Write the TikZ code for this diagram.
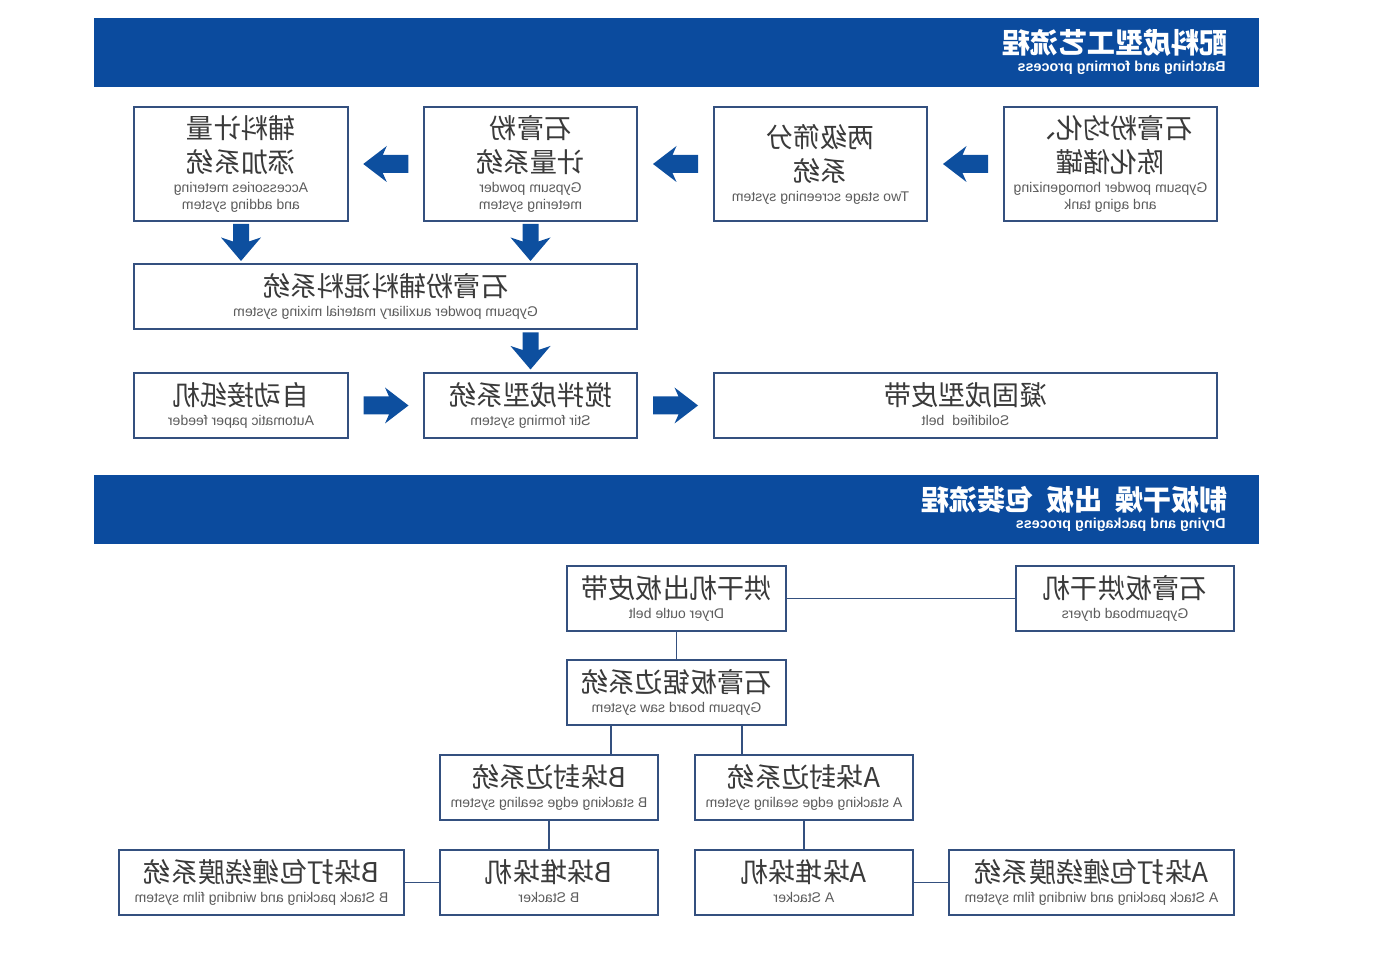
\documentclass[tikz,border=0pt]{standalone}
\usepackage{fontspec}
\usepackage{graphicx}
\setmainfont{Liberation Sans}
\newfontfamily\cjk{Noto Sans CJK SC}
\usetikzlibrary{calc}
\definecolor{banblue}{HTML}{0B4B9E}
\definecolor{arblue}{HTML}{0D4F9F}
\definecolor{edge}{HTML}{34507F}
\definecolor{zhgray}{HTML}{3A3A3A}
\definecolor{engray}{HTML}{5C5C5C}
% one line of Chinese / one line of English, with fixed struts
\newcommand\zh[2][15.5pt]{{\cjk\fontsize{15.5}{16}\selectfont\color{zhgray}\rule[-5.8pt]{0pt}{\dimexpr#1+5.8pt\relax}#2}}
\newcommand\en[1]{{\fontsize{8}{9}\selectfont\color{engray}\rule[-3.8pt]{0pt}{7.9pt}#1}}
% the reference prints every text mirrored
\newcommand\mir[1]{\reflectbox{\renewcommand\arraystretch{0}\begin{tabular}{@{}c@{}}#1\end{tabular}}}
\tikzset{
  proc/.style={draw=edge, line width=1pt, fill=white, inner sep=0pt},
  tall/.style={proc, minimum width=4.27cm, minimum height=2.28cm},
  row/.style={proc, minimum height=1.3cm},
  conn/.style={draw=edge, line width=1.1pt},
  harrow/.pic={\fill[arblue] (22.5,0) -- (-1,-18) -- (3,-9) -- (-22.5,-9) -- (-22.5,9) -- (3,9) -- (-1,18) -- cycle;},
  varrow/.pic={\fill[arblue] (0,18.5) -- (-20,-5) -- (-8,-1) -- (-8,-18.5) -- (8,-18.5) -- (8,-1) -- (20,-5) -- cycle;}
}
\begin{document}
\begin{tikzpicture}[x=0.02cm, y=-0.02cm]
\useasboundingbox (0,0) rectangle (1386,972);

% Batching and forming
\fill[banblue] (94,18) rectangle (1259,87);
\node[anchor=east, text=white, inner sep=0pt] (t1zh) at (1228,43) {\reflectbox{\cjk\bfseries\fontsize{16}{16}\selectfont 配料成型工艺流程}};
\node[anchor=east, text=white, inner sep=0pt] (t1en) at (1226,68) {\reflectbox{\bfseries\fontsize{8.2}{9}\selectfont Batching and forming process}};

\node[tall] (acc) at (241,164) {\mir{\zh{辅料计量}\\\zh[13.5pt]{添加系统}\\\en{Accessories metering}\\\en{and adding system}}};
\node[tall] (gpm) at (530.5,164) {\mir{\zh{石膏粉}\\\zh[13.5pt]{计量系统}\\\en{Gypsum powder}\\\en{metering system}}};
\node[tall] (tss) at (820.5,164) {\mir{\zh{两级筛分}\\\zh[13.5pt]{系统}\\\en{Two stage screening system}}};
\node[tall] (hom) at (1110.5,164) {\mir{\zh{石膏粉均化、}\\\zh[13.5pt]{陈化储罐}\\\en{Gypsum powder homogenizing}\\\en{and aging tank}}};
\node[row, minimum width=10.06cm] (mix) at (385.5,296.5) {\mir{\zh{石膏粉辅料混料系统}\\\en{Gypsum powder auxiliary material mixing system}}};
\node[row, minimum width=4.28cm] (paper) at (241,405.5) {\mir{\zh{自动接纸机}\\\en{Automatic paper feeder}}};
\node[row, minimum width=4.26cm] (stir) at (530.5,405.5) {\mir{\zh{搅拌成型系统}\\\en{Stir forming system}}};
\node[row, minimum width=10.06cm] (solid) at (965.5,405.5) {\mir{\zh{凝固成型皮带}\\\en{Solidified\ \ belt}}};

\pic[xscale=-1] at ($(acc.east)!.5!(gpm.west)$) {harrow};
\pic[xscale=-1] at ($(gpm.east)!.5!(tss.west)$) {harrow};
\pic[xscale=-1] at ($(tss.east)!.5!(hom.west)$) {harrow};
\pic at ($(acc.south)!.5!(acc.south |- mix.north)$) {varrow};
\pic at ($(gpm.south)!.5!(gpm.south |- mix.north)$) {varrow};
\pic at ($(stir.north |- mix.south)!.5!(stir.north)$) {varrow};
\pic at ($(paper.east)!.5!(stir.west)$) {harrow};
\pic at ($(stir.east)!.5!(solid.west)$) {harrow};

% Drying and packaging
\fill[banblue] (94,475) rectangle (1259,544);
\node[anchor=east, text=white, inner sep=0pt] (t2zh) at (1228,500) {\reflectbox{\cjk\bfseries\fontsize{16}{16}\selectfont 制板干燥\hspace{0.45em}出板\hspace{0.45em}包装流程}};
\node[anchor=east, text=white, inner sep=0pt] (t2en) at (1226,525) {\reflectbox{\bfseries\fontsize{8.2}{9}\selectfont Drying and packaging process}};

\node[row, minimum width=4.38cm] (belt) at (676.5,598.5) {\mir{\zh{烘干机出板皮带}\\\en{Dryer outle belt}}};
\node[row, minimum width=4.36cm] (dryer) at (1125,598.5) {\mir{\zh{石膏板烘干机}\\\en{Gypsumboad dryers}}};
\node[row, minimum width=4.38cm] (saw) at (676.5,692.5) {\mir{\zh{石膏板锯边系统}\\\en{Gypsum board saw system}}};
\node[row, minimum width=4.36cm] (bseal) at (549,787.5) {\mir{\zh{B垛封边系统}\\\en{B stacking edge sealing system}}};
\node[row, minimum width=4.36cm] (aseal) at (804,787.5) {\mir{\zh{A垛封边系统}\\\en{A stacking edge sealing system}}};
\node[row, minimum width=4.36cm] (bstack) at (549,882.5) {\mir{\zh{B垛堆垛机}\\\en{B Stacker}}};
\node[row, minimum width=4.36cm] (astack) at (804,882.5) {\mir{\zh{A垛堆垛机}\\\en{A Stacker}}};
\node[row, minimum width=5.7cm] (bpack) at (261.5,882.5) {\mir{\zh{B垛打包缠绕膜系统}\\\en{B Stack packing and winding film system}}};
\node[row, minimum width=5.7cm] (apack) at (1091.5,882.5) {\mir{\zh{A垛打包缠绕膜系统}\\\en{A Stack packing and winding film system}}};

\coordinate (sawb) at ($(saw.south west)!.205!(saw.south east)$);
\coordinate (sawa) at ($(saw.south west)!.795!(saw.south east)$);
\draw[conn] (belt) -- (dryer);
\draw[conn] (belt) -- (saw);
\draw[conn] (sawb) -- (sawb |- bseal.north);
\draw[conn] (sawa) -- (sawa |- aseal.north);
\draw[conn] (bseal) -- (bstack);
\draw[conn] (aseal) -- (astack);
\draw[conn] (bpack) -- (bstack);
\draw[conn] (astack) -- (apack);
\end{tikzpicture}
\end{document}
